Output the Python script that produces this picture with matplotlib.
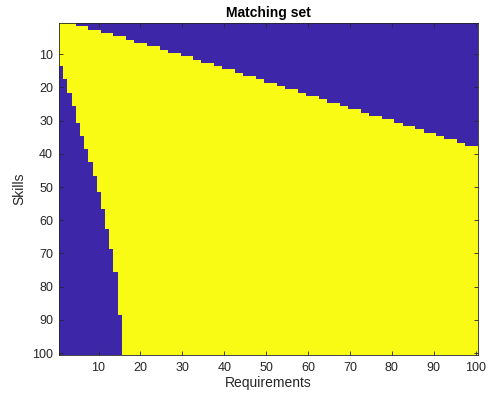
import numpy as np
import matplotlib
matplotlib.use("Agg")
import matplotlib.pyplot as plt
from matplotlib.colors import ListedColormap

# First yellow (matching) row for each requirement column 1..100
top_start = [1]*4 + [2]*3 + [3]*3 + [4]*3 + [5]*3 + [6]*2 + [7]*3 + [8]*3 + [9]*2 + \
    [10]*3 + [11]*3 + [12]*2 + [13]*3 + [14]*2 + [15]*3 + [16]*2 + [17]*3 + [18]*2 + \
    [19]*3 + [20]*2 + [21]*3 + [22]*2 + [23]*3 + [24]*2 + [25]*3 + [26]*2 + [27]*3 + \
    [28]*2 + [29]*3 + [30]*3 + [31]*2 + [32]*3 + [33]*2 + [34]*3 + [35]*2 + [36]*3 + \
    [37]*2 + [38]*3
# First yellow (matching) column for each skill row 1..100
left_start = [1]*13 + [2]*4 + [3]*4 + [4]*4 + [5]*5 + [6]*4 + [7]*4 + [8]*4 + [9]*4 + \
    [10]*5 + [11]*5 + [12]*6 + [13]*6 + [14]*7 + [15]*13 + [16]*12

n_skills = 100
n_reqs = 100
x_ticks = [10, 20, 30, 40, 50, 60, 70, 80, 90, 100]
y_ticks = [10, 20, 30, 40, 50, 60, 70, 80, 90, 100]

rows = np.arange(1, n_skills + 1)[:, None]
cols = np.arange(1, n_reqs + 1)[None, :]
M = ((rows >= np.array(top_start)[None, :]) &
     (cols >= np.array(left_start)[:, None])).astype(float)

plt.rcParams['font.family'] = ['Liberation Sans', 'DejaVu Sans']
fig = plt.figure(figsize=(4.93, 4.03), dpi=100)
ax = fig.add_axes([58.7/493, 1 - 354.7/403, (477.7-58.7)/493, (354.7-22.7)/403])
cmap = ListedColormap(['#3E26A8', '#F9FB15'])
ax.imshow(M, cmap=cmap, aspect='auto', interpolation='nearest',
          extent=(0.5, n_reqs + 0.5, n_skills + 0.5, 0.5), vmin=0, vmax=1)
ax.set_xticks(x_ticks)
ax.set_yticks(y_ticks)
ax.tick_params(direction='in', length=3, width=0.6, colors='#262626',
               labelsize=9, top=True, right=True)
ax.tick_params(axis='x', pad=5)
ax.tick_params(axis='y', pad=4)
for s in ax.spines.values():
    s.set_color('#262626')
    s.set_linewidth(0.6)
ax.set_xlabel('Requirements', fontsize=10, color='#262626', labelpad=2)
ax.set_ylabel('Skills', fontsize=10, color='#262626', labelpad=4)
ax.set_title('Matching set', fontsize=10, fontweight='bold', color='black', pad=4)
fig.savefig('out.png', dpi=100)
